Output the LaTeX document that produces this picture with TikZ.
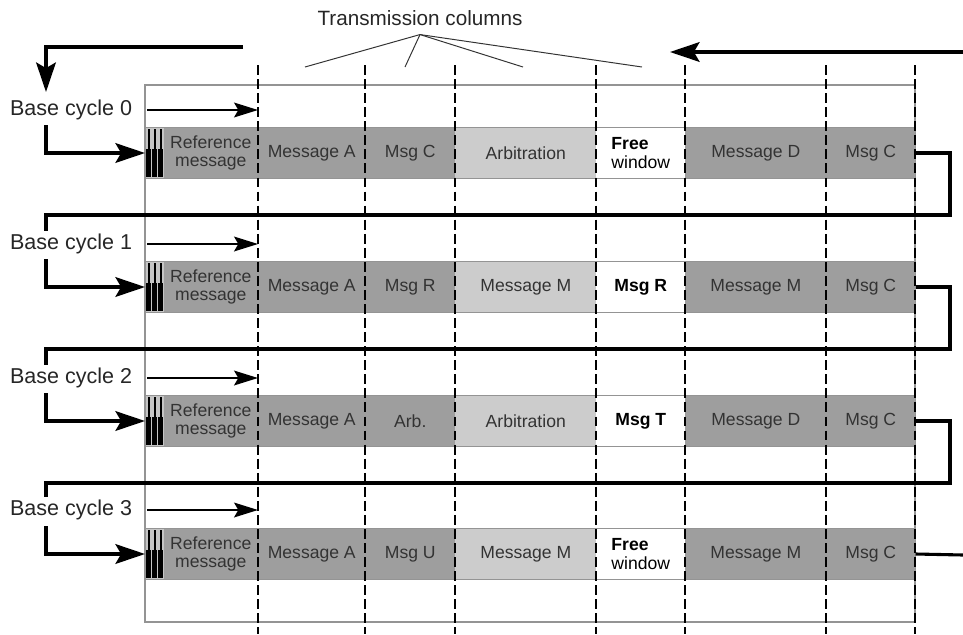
\documentclass[tikz,border=0pt]{standalone}
\usepackage{fontspec}
\setmainfont{Liberation Sans}
\usetikzlibrary{arrows.meta}
\usetikzlibrary{calc}
\definecolor{msgdark}{gray}{0.62}
\definecolor{msglight}{gray}{0.80}
\definecolor{framegray}{gray}{0.58}
\definecolor{txtgray}{gray}{0.2}
\newcommand{\pxw}{0.025cm}
\tikzset{
	cell/.style={anchor=west, minimum height=50*\pxw, inner sep=0pt, text=txtgray, align=center, font=\fontsize{12.5}{13}\selectfont},
	darkcell/.style={cell, fill=msgdark},
	lightcell/.style={cell, fill=msglight},
	freecell/.style={cell, fill=white, text=black, align=left},
	colline/.style={black, line width=1.6pt, dash pattern=on 7pt off 3pt},
	bigarrow/.style={black, line width=2.2pt, -{Stealth[length=21pt, width=14pt, inset=4pt]}},
	smallarrow/.style={black, line width=1.4pt, -{Stealth[length=17pt, width=10.5pt, inset=3pt]}},
	loopline/.style={black, line width=2.2pt},
	cyclelabel/.style={anchor=west, inner sep=2pt, text=black!85, font=\fontsize{15.3}{16}\selectfont}
}

\begin{document}
\begin{tikzpicture}[x=0.025cm, y=-0.025cm]
	\useasboundingbox (0,0) rectangle (963,634);

	% Transmission columns
	\node[font=\fontsize{14.7}{16}\selectfont, text=black!85] (tc) at (420,18) {Transmission columns};
	\coordinate (tc1) at (305,67);
	\coordinate (tc2) at (405,67);
	\coordinate (tc3) at (523,67);
	\coordinate (tc4) at (642,67);
	\foreach \t in {1,...,4}
		\draw[black!80, line width=0.7pt] ([yshift=-4*\pxw]tc.south) -- (tc\t);

	% frame
	\draw[framegray, line width=1.3pt] (145,85) rectangle (915,622);

	% Base cycles
	\foreach \r/\ly in {0/110, 1/244, 2/378, 3/510}
		\node[cyclelabel] (bc\r) at (7,\ly) {Base cycle \r};

	% Rows
	\foreach \r/\y/\tb/\tc/\td/\te in {0/128/Msg C/Arbitration/{\bfseries Free}\\window/Message D,
			1/262/Msg R/Message M/\textbf{Msg R}/Message M,
			2/396/Arb./Arbitration/\textbf{Msg T}/Message D,
			3/529/Msg U/Message M/{\bfseries Free}\\window/Message M}{
		\node[cell, fill=white, minimum width=18*\pxw] (r\r-b) at (145,\y+25) {};
		\node[darkcell, minimum width=95*\pxw] (r\r-0) at (163,\y+25) {Reference\\message};
		\node[darkcell, minimum width=107*\pxw] (r\r-1) at (258,\y+25) {Message A};
		\node[darkcell, minimum width=90*\pxw] (r\r-2) at (365,\y+25) {\tb};
		\node[lightcell, minimum width=141*\pxw] (r\r-3) at (455,\y+25) {\tc};
		\node[freecell, minimum width=89*\pxw] (r\r-4) at (596,\y+25) {\td};
		\node[darkcell, minimum width=141*\pxw] (r\r-5) at (685,\y+25) {\te};
		\node[darkcell, minimum width=89*\pxw] (r\r-6) at (826,\y+25) {Msg C};
		% reference bars
		\fill[msgdark!60] (r\r-b.north west) rectangle (r\r-b.south east);
		\foreach \bx in {147.5,153.5,159.5}{
			\fill[black] (\bx,\y+1) rectangle ++(2,21);
			\fill[black] (\bx-1.3,\y+21) rectangle ++(4.6,28);
		}
		\draw[framegray, line width=1pt] (r\r-b.north west) rectangle (r\r-6.south east);
		\draw[smallarrow] ([xshift=12*\pxw]bc\r.east) -- (bc\r -| r\r-1.west);
		\coordinate (v\r) at (46,\y-3);
		\draw[bigarrow] (v\r) |- (r\r-b.west);
	}

	% columns
	\foreach \cx in {258,365,455,596,685,826,915}
		\draw[colline] (\cx,65) -- (\cx,634);

	% Loops
	\coordinate (loopin) at (243,47);
	\coordinate (loopend) at (46,92);
	\draw[bigarrow] (loopin) -| (loopend);
	\coordinate (rin) at (963,52);
	\coordinate (rtip) at (670,52);
	\draw[bigarrow] (rin) -- (rtip);
	\foreach \r/\ky [evaluate=\r as \n using int(\r+1)] in {0/215, 1/349, 2/483}{
		\coordinate (rk\n) at (950,\ky);
		\coordinate (k\n) at (46,\ky);
		\draw[loopline] (r\r-6.east) -| (rk\n) -- (k\n) -- (k\n |- bc\n.north);
	}
	\coordinate (rout) at (963,555);
	\draw[loopline] (r3-6.east) -- (rout);
\end{tikzpicture}
\end{document}
